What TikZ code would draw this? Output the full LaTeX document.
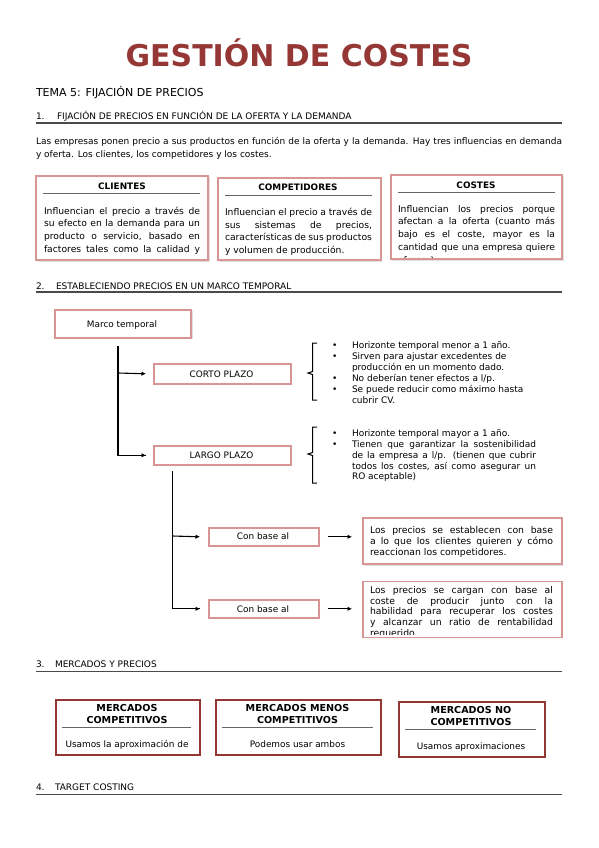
\documentclass[tikz,border=0pt]{standalone}
\usepackage{fontspec}
\setmainfont{DejaVu Sans}
\usetikzlibrary{arrows.meta}
\definecolor{titlered}{HTML}{953735}
\definecolor{boxpink}{HTML}{D99594}
\definecolor{darkred}{HTML}{943634}
\definecolor{rulegray}{HTML}{4A4A4A}
\newcommand\jl[2]{\makebox[#1][s]{#2}}
\newcommand\fsz[1]{\fontsize{#1}{#1}\selectfont}
\begin{document}
\begin{tikzpicture}[x=1pt,y=-1pt,
  txt/.style={anchor=base west, inner sep=0pt, outer sep=0pt, font=\fsz{9.2}},
  btxt/.style={txt, font=\fsz{9}},
  ttxt/.style={txt, font=\fsz{9.3}},
  ctxt/.style={anchor=base, inner sep=0pt, outer sep=0pt, font=\fsz{8.9}},
  hdr/.style={anchor=base, inner sep=0pt, outer sep=0pt, font=\fsz{8.9}\bfseries},
  mhdr/.style={hdr, font=\fsz{9.6}\bfseries},
  sect/.style={anchor=base west, inner sep=0pt, outer sep=0pt, font=\fsz{9}},
  secrule/.style={draw=rulegray, line width=1.4pt},
  hrule/.style={draw=rulegray!85, line width=0.8pt},
  pinkbox/.style={draw=boxpink, line width=1.6pt, fill=white, inner sep=0pt, anchor=north west},
  redbox/.style={draw=darkred, line width=1.6pt, fill=white, inner sep=0pt, anchor=north west},
  conn/.style={draw=black, line width=1.1pt},
  arr/.style={conn, -{Latex[length=4.5pt,width=4.5pt]}},
  brace/.style={draw=black, line width=1pt}
]
\useasboundingbox (0,0) rectangle (599,848);
\fill[white] (0,0) rectangle (599,848);

% ---------- title ----------
\node[anchor=base, inner sep=0pt, font=\fsz{30}\bfseries, text=titlered] (title) at (299,67) {GESTIÓN DE COSTES};
\node[txt, font=\fsz{11}] (tema) at (36,96.5) {TEMA 5: FIJACIÓN DE PRECIOS};

% ---------- section 1 ----------
\node[sect] (s1n) at (36,119.5) {1.};
\node[sect] (s1) at (57,119.5) {FIJACIÓN DE PRECIOS EN FUNCIÓN DE LA OFERTA Y LA DEMANDA};
\coordinate (s1a) at (36,123); \coordinate (s1b) at (562,123);
\draw[secrule] (s1a) -- (s1b);

\node[txt, font=\fsz{9}] (p1) at (36,144) {\jl{526pt}{Las empresas ponen precio a sus productos en función de la oferta y la demanda. Hay tres influencias en demanda}};
\node[txt, font=\fsz{9}] (p2) at (36,157.5) {y oferta. Los clientes, los competidores y los costes.};

% box shadows
\fill[black!12] (37.5,176.5) rectangle (210,262);
\fill[black!12] (219,178.5) rectangle (382,262);
\fill[black!12] (392,175.5) rectangle (564,261);

\node[pinkbox, minimum width=172pt, minimum height=84pt] (cli) at (35,175) {};
\node[pinkbox, minimum width=163pt, minimum height=82pt] (comp) at (217,177) {};
\node[pinkbox, minimum width=171pt, minimum height=84pt] (cost) at (390,174) {};

% CLIENTES
\node[hdr] (clih) at (122,189) {CLIENTES};
\coordinate (clil) at (43,193); \coordinate (clir) at (200,193);
\draw[hrule] (clil) -- (clir);
\node[txt] (cli1) at (44,214) {\jl{156pt}{Influencian el precio a través de}};
\node[txt] (cli2) at (44,226.8) {\jl{156pt}{su efecto en la demanda para un}};
\node[txt] (cli3) at (44,239.5) {\jl{156pt}{producto o servicio, basado en}};
\node[txt] (cli4) at (44,252.2) {\jl{156pt}{factores tales como la calidad y}};

% COMPETIDORES
\node[hdr] (comph) at (298,190.7) {COMPETIDORES};
\coordinate (compl) at (225,195); \coordinate (compr) at (372,195);
\draw[hrule] (compl) -- (compr);
\node[txt] (comp1) at (225,215.3) {\jl{147pt}{Influencian el precio a través de}};
\node[txt] (comp2) at (225,228) {\jl{147pt}{sus sistemas de precios,}};
\node[txt] (comp3) at (225,240.5) {\jl{147pt}{características de sus productos}};
\node[txt] (comp4) at (225,253) {y volumen de producción.};

% COSTES
\node[hdr] (costh) at (476,188.3) {COSTES};
\coordinate (costl) at (398,192); \coordinate (costr) at (555,192);
\draw[hrule] (costl) -- (costr);
\node[txt] (cost1) at (398,212.3) {\jl{157pt}{Influencian los precios porque}};
\node[txt] (cost2) at (398,224.8) {\jl{157pt}{afectan a la oferta (cuanto más}};
\node[txt] (cost3) at (398,237.7) {\jl{157pt}{bajo es el coste, mayor es la}};
\node[txt] (cost4) at (398,250.7) {\jl{157pt}{cantidad que una empresa quiere}};
\begin{scope}
  \clip (392,253) rectangle (559,257.5);
  \node[txt] (cost5) at (398,263.5) {ofrecer).};
\end{scope}

% ---------- section 2 ----------
\node[sect] (s2n) at (36,289) {2.};
\node[sect] (s2) at (56,289) {ESTABLECIENDO PRECIOS EN UN MARCO TEMPORAL};
\coordinate (s2a) at (36,292); \coordinate (s2b) at (562,292);
\draw[secrule] (s2a) -- (s2b);

\fill[black!12] (56,311) rectangle (193,339);
\node[pinkbox, minimum width=136pt, minimum height=28pt] (marco) at (54,309) {};
\node[ctxt] (marcot) at (122,327) {Marco temporal};

\fill[black!12] (155,365) rectangle (292,385);
\node[pinkbox, minimum width=137pt, minimum height=20pt] (corto) at (153,363) {};
\node[ctxt] (cortot) at (221.5,377) {CORTO PLAZO};
\fill[black!12] (155,447) rectangle (292,466);
\node[pinkbox, minimum width=137pt, minimum height=19pt] (largo) at (153,445) {};
\node[ctxt] (largot) at (221.5,458.5) {LARGO PLAZO};

\coordinate (v1) at (118,346);
\coordinate (j1) at (118,373);
\draw[conn] (v1) |- ([xshift=-7pt]largo.west);
\draw[arr] ([xshift=-7.1pt]largo.west) -- ([xshift=-7pt]largo.west);
\draw[arr] (j1) -- ([xshift=-7pt]corto.west);

% braces
\coordinate (b1t) at (317,343); \coordinate (b1b) at (317,400); \coordinate (b1m) at (308,373);
\draw[brace] (b1t) -- (312.5,343) -- (312.5,371.5) -- (b1m) -- (312.5,374.5) -- (312.5,400) -- (b1b);
\coordinate (b2t) at (317,427); \coordinate (b2b) at (317,483); \coordinate (b2m) at (308,454);
\draw[brace] (b2t) -- (312.5,427) -- (312.5,452.5) -- (b2m) -- (312.5,455.5) -- (312.5,483) -- (b2b);

% corto bullets
\node[btxt] (cb1) at (332,348) {•};
\node[btxt] (ct1) at (352,348) {Horizonte temporal menor a 1 año.};
\node[btxt] (cb2) at (332,359) {•};
\node[btxt] (ct2) at (352,359) {Sirven para ajustar excedentes de};
\node[btxt] (ct3) at (352,370) {producción en un momento dado.};
\node[btxt] (cb4) at (332,381) {•};
\node[btxt] (ct4) at (352,381) {No deberían tener efectos a l/p.};
\node[btxt] (cb5) at (332,392) {•};
\node[btxt] (ct5) at (352,392) {Se puede reducir como máximo hasta};
\node[btxt] (ct6) at (352,403) {cubrir CV.};

% largo bullets
\node[btxt] (lb1) at (332,436) {•};
\node[btxt] (lt1) at (352,436) {Horizonte temporal mayor a 1 año.};
\node[btxt] (lb2) at (332,447) {•};
\node[btxt] (lt2) at (352,447) {\jl{184pt}{Tienen que garantizar la sostenibilidad}};
\node[btxt] (lt3) at (352,458) {\jl{184pt}{de la empresa a l/p. (tienen que cubrir}};
\node[btxt] (lt4) at (352,469) {\jl{184pt}{todos los costes, así como asegurar un}};
\node[btxt] (lt5) at (352,479.5) {RO aceptable)};

% con base al
\fill[black!12] (210,529) rectangle (320,547);
\node[pinkbox, minimum width=110pt, minimum height=18pt] (cb1x) at (208,527) {};
\node[ctxt] (cb1t) at (263,539.5) {Con base al};
\fill[black!12] (210,601) rectangle (320,619);
\node[pinkbox, minimum width=110pt, minimum height=18pt] (cb2x) at (208,599) {};
\node[ctxt] (cb2t) at (263,612) {Con base al};

\coordinate (v2) at (172.5,471);
\draw[conn] (v2) |- ([xshift=-8pt]cb2x.west);
\draw[arr] ([xshift=-8.1pt]cb2x.west) -- ([xshift=-8pt]cb2x.west);
\coordinate (j2) at (172.5,536);
\draw[arr] (j2) -- ([xshift=-8pt]cb1x.west);

\fill[black!12] (364,519) rectangle (563,566);
\node[pinkbox, minimum width=199pt, minimum height=46pt] (tb1) at (362,517) {};
\fill[black!12] (364,582) rectangle (563,638);
\node[pinkbox, minimum width=199pt, minimum height=56pt] (tb2) at (362,580.5) {};

\draw[arr] ([xshift=8pt]cb1x.east) -- ([xshift=-10pt]tb1.west |- cb1x.east);
\draw[arr] ([xshift=8pt]cb2x.east) -- ([xshift=-10pt]tb2.west |- cb2x.east);

\node[ttxt] (tb1a) at (370,533.3) {\jl{183pt}{Los precios se establecen con base}};
\node[ttxt] (tb1b) at (370,544.5) {\jl{183pt}{a lo que los clientes quieren y cómo}};
\node[ttxt] (tb1c) at (370,555.3) {reaccionan los competidores.};

\node[ttxt] (tb2a) at (370,593.3) {\jl{183pt}{Los precios se cargan con base al}};
\node[ttxt] (tb2b) at (370,604) {\jl{183pt}{coste de producir junto con la}};
\node[ttxt] (tb2c) at (370,614.5) {\jl{183pt}{habilidad para recuperar los costes}};
\node[ttxt] (tb2d) at (370,625) {\jl{183pt}{y alcanzar un ratio de rentabilidad}};
\begin{scope}
  \clip (365,627.5) rectangle (558,634.5);
  \node[ttxt] (tb2e) at (370,636) {requerido.};
\end{scope}

% ---------- section 3 ----------
\node[sect] (s3n) at (36,667.5) {3.};
\node[sect] (s3) at (55,667.5) {MERCADOS Y PRECIOS};
\coordinate (s3a) at (36,671.5); \coordinate (s3b) at (562,671.5);
\draw[secrule] (s3a) -- (s3b);

\fill[black!15] (57,701) rectangle (201,756);
\node[redbox, minimum width=144pt, minimum height=55pt] (m1) at (55,699) {};
\node[mhdr] (m1a) at (127,711) {MERCADOS};
\node[mhdr] (m1b) at (127,723.5) {COMPETITIVOS};
\coordinate (m1l) at (62,727); \coordinate (m1r) at (191,727);
\draw[hrule] (m1l) -- (m1r);
\node[ctxt] (m1t) at (127,747.5) {Usamos la aproximación de};

\fill[black!15] (217,701) rectangle (382,756);
\node[redbox, minimum width=165pt, minimum height=55pt] (m2) at (215,699) {};
\node[mhdr] (m2a) at (297.5,711) {MERCADOS MENOS};
\node[mhdr] (m2b) at (297.5,723.5) {COMPETITIVOS};
\coordinate (m2l) at (222,727); \coordinate (m2r) at (373,727);
\draw[hrule] (m2l) -- (m2r);
\node[ctxt] (m2t) at (297.5,747) {Podemos usar ambos};

\fill[black!15] (400,703) rectangle (546,758);
\node[redbox, minimum width=146pt, minimum height=55pt] (m3) at (398,701) {};
\node[mhdr] (m3a) at (471,713) {MERCADOS NO};
\node[mhdr] (m3b) at (471,725.5) {COMPETITIVOS};
\coordinate (m3l) at (405,729); \coordinate (m3r) at (536,729);
\draw[hrule] (m3l) -- (m3r);
\node[ctxt] (m3t) at (471,749) {Usamos aproximaciones};

% ---------- section 4 ----------
\node[sect] (s4n) at (36,790) {4.};
\node[sect] (s4) at (55,790) {TARGET COSTING};
\coordinate (s4a) at (36,794.5); \coordinate (s4b) at (562,794.5);
\draw[secrule] (s4a) -- (s4b);
\end{tikzpicture}
\end{document}
